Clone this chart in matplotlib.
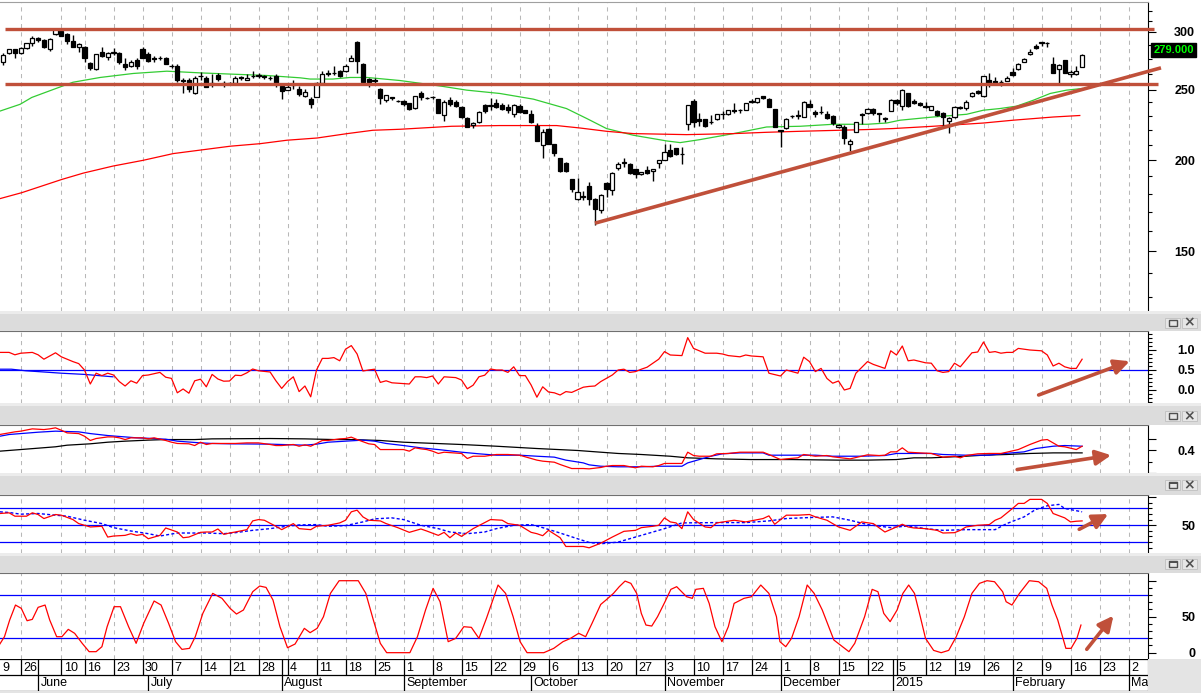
import matplotlib.pyplot as plt
import matplotlib.transforms as mtransforms
from matplotlib.patches import Rectangle
from matplotlib.ticker import NullFormatter

W, H = 1201, 693
AX_RIGHT = 1148

plt.rcParams['font.family'] = ['Liberation Sans', 'DejaVu Sans']
plt.rcParams['lines.scale_dashes'] = False

# ---------------- price data (one candle per trading day, index 0..186) ----------------
opens = [
    273.0, 281.0, 283.7, 281.0, 284.6, 289.2, 294.0, 292.2, 283.7, 297.6,
    301.0, 297.6, 291.4, 286.1, 286.1, 272.0, 266.6, 281.6, 277.0, 281.0,
    281.0, 271.0, 269.6, 274.3, 283.7, 279.6, 275.8, 275.8, 276.4, 269.4,
    269.2, 258.0, 258.0, 246.9, 260.7, 259.6, 254.8, 261.7, 254.8, 255.3,
    255.6, 259.8, 258.0, 260.5, 261.5, 260.5, 259.3, 260.7, 252.6, 250.0,
    253.4, 250.8, 245.0, 242.8, 243.8, 255.6, 263.6, 263.0, 265.0, 265.3,
    273.8, 290.1, 270.9, 258.3, 258.0, 250.8, 241.8, 243.8, 241.3, 241.0,
    239.2, 235.5, 246.9, 243.6, 244.1, 242.6, 230.5, 241.8, 240.3, 236.2,
    228.8, 223.2, 225.3, 237.7, 237.7, 239.7, 237.7, 236.2, 231.1, 237.0,
    234.2, 231.1, 222.6, 209.5, 221.0, 210.4, 201.1, 198.5, 188.2, 176.8,
    178.7, 184.2, 176.8, 171.1, 186.0, 182.3, 195.3, 198.3, 197.5, 194.2,
    191.2, 193.8, 193.0, 198.5, 200.0, 206.5, 207.6, 203.9, 224.1, 240.8,
    228.1, 227.6, 225.7, 227.8, 231.5, 231.3, 234.2, 234.2, 234.7, 241.3,
    240.0, 244.8, 242.8, 234.9, 220.0, 221.1, 229.8, 230.3, 229.3, 238.5,
    233.0, 233.0, 231.3, 229.8, 221.8, 222.2, 210.8, 218.9, 231.1, 231.8,
    235.3, 231.8, 228.3, 233.7, 241.8, 237.2, 246.9, 241.3, 239.2, 237.2,
    234.7, 233.5, 232.3, 226.0, 229.3, 236.7, 235.5, 245.1, 249.0, 244.8,
    257.5, 256.7, 256.0, 257.0, 264.4, 266.6, 273.0, 279.6, 286.6, 290.0,
    289.7, 271.4, 266.6, 274.3, 262.8, 262.2, 268.6]
highs = [
    280.2, 284.3, 284.0, 285.5, 290.0, 295.8, 295.0, 293.6, 294.6, 303.0,
    304.0, 299.0, 296.8, 289.8, 286.5, 273.0, 280.0, 285.5, 281.7, 284.6,
    281.6, 276.0, 274.3, 276.6, 285.5, 281.6, 277.8, 277.8, 277.2, 271.0,
    271.0, 259.5, 259.6, 260.7, 264.3, 260.7, 262.5, 263.6, 256.9, 256.2,
    260.7, 260.7, 262.5, 264.9, 263.6, 261.5, 260.7, 262.5, 254.8, 253.4,
    257.5, 252.6, 250.8, 244.1, 256.2, 265.2, 265.8, 269.7, 266.0, 270.8,
    278.6, 291.5, 271.5, 259.6, 259.0, 251.3, 246.0, 244.3, 242.0, 241.8,
    239.5, 245.3, 248.9, 244.5, 244.8, 243.0, 241.8, 244.3, 241.8, 237.0,
    229.3, 225.7, 233.5, 238.5, 243.6, 242.3, 239.2, 238.7, 238.7, 238.7,
    234.7, 234.2, 224.6, 220.6, 221.5, 210.8, 201.5, 198.9, 188.6, 189.0,
    181.7, 186.8, 177.2, 179.9, 186.8, 192.8, 199.0, 201.6, 198.3, 194.8,
    192.8, 196.3, 194.6, 200.4, 210.8, 210.4, 207.8, 208.6, 238.0, 242.8,
    231.8, 228.0, 230.5, 231.5, 233.3, 234.5, 239.2, 235.3, 239.7, 242.3,
    243.6, 245.3, 243.3, 235.4, 220.2, 228.8, 230.8, 234.2, 241.3, 241.8,
    234.2, 237.2, 233.5, 230.5, 224.1, 223.4, 213.5, 225.7, 231.8, 236.0,
    236.0, 232.3, 229.5, 243.0, 243.0, 250.6, 247.3, 242.3, 240.5, 240.3,
    237.5, 234.2, 233.0, 229.0, 237.2, 237.2, 241.8, 248.2, 249.5, 261.2,
    263.6, 260.2, 257.5, 260.7, 267.9, 271.8, 276.6, 283.7, 288.7, 290.6,
    290.2, 277.2, 270.6, 274.5, 265.8, 268.9, 280.0]
lows = [
    270.5, 280.0, 276.6, 280.0, 284.0, 287.2, 290.6, 284.6, 282.5, 297.0,
    296.0, 288.6, 286.0, 281.6, 273.0, 266.0, 266.0, 277.2, 274.3, 278.6,
    271.4, 265.8, 268.1, 266.4, 275.8, 272.9, 272.9, 274.3, 270.9, 267.2,
    256.2, 246.9, 248.2, 246.4, 257.5, 251.6, 251.6, 257.0, 251.6, 254.2,
    254.8, 258.0, 257.5, 259.6, 259.6, 258.8, 257.5, 252.1, 242.8, 249.5,
    250.8, 244.8, 243.9, 235.5, 243.8, 254.8, 261.0, 261.7, 260.0, 264.5,
    273.8, 263.0, 255.8, 251.6, 255.0, 239.0, 240.5, 241.8, 240.0, 237.5,
    234.5, 235.0, 241.8, 242.8, 242.3, 231.8, 226.5, 237.2, 236.7, 228.8,
    221.8, 221.6, 224.8, 232.3, 234.2, 235.5, 234.7, 232.3, 229.3, 231.8,
    231.8, 224.6, 212.2, 201.6, 210.4, 202.6, 192.8, 192.8, 180.6, 176.1,
    176.5, 173.6, 163.2, 169.3, 178.1, 179.3, 193.8, 195.9, 191.4, 189.3,
    191.0, 191.4, 187.3, 195.1, 199.8, 202.2, 203.5, 197.7, 219.9, 222.2,
    222.6, 221.8, 224.1, 227.3, 227.8, 230.8, 232.0, 231.8, 234.0, 239.5,
    239.7, 242.8, 236.2, 221.8, 208.6, 220.4, 228.8, 227.6, 229.0, 236.2,
    229.3, 231.3, 227.6, 223.4, 221.1, 210.8, 205.9, 218.5, 224.1, 231.5,
    230.8, 225.3, 225.7, 233.4, 238.0, 234.2, 236.9, 238.7, 237.2, 235.5,
    234.5, 229.8, 222.6, 217.6, 228.8, 235.0, 234.7, 244.0, 246.6, 244.3,
    251.6, 254.8, 252.9, 256.7, 260.9, 266.0, 272.7, 278.9, 283.9, 286.6,
    286.3, 263.3, 254.2, 263.3, 259.9, 261.9, 268.3]
closes = [
    278.7, 283.7, 280.2, 284.6, 289.2, 294.6, 292.0, 286.1, 293.7, 302.2,
    296.5, 291.0, 286.1, 288.2, 275.8, 267.2, 279.6, 277.8, 280.2, 281.2,
    272.9, 268.6, 272.3, 269.4, 276.6, 273.5, 275.6, 276.0, 271.4, 269.0,
    257.5, 257.2, 250.8, 259.6, 260.9, 252.1, 254.2, 258.3, 254.6, 255.6,
    259.6, 259.0, 259.6, 260.8, 261.3, 260.4, 259.1, 254.8, 249.0, 252.1,
    253.2, 246.1, 247.7, 238.7, 254.8, 262.5, 262.3, 263.2, 261.2, 269.2,
    276.6, 273.5, 256.2, 256.2, 256.9, 243.3, 245.6, 243.6, 241.1, 238.7,
    235.0, 244.8, 243.8, 243.4, 243.9, 232.3, 240.5, 238.7, 237.2, 229.3,
    222.2, 224.6, 233.0, 233.7, 237.5, 236.7, 235.3, 234.2, 237.7, 232.6,
    232.3, 225.3, 212.6, 218.3, 210.8, 204.3, 193.4, 193.4, 182.5, 180.6,
    178.1, 176.8, 171.6, 179.3, 182.5, 192.0, 197.9, 198.6, 191.8, 191.2,
    192.4, 191.8, 194.2, 200.0, 205.4, 202.6, 203.9, 204.1, 237.7, 225.7,
    226.5, 222.6, 225.9, 231.3, 231.3, 234.2, 233.3, 234.0, 239.2, 240.0,
    243.1, 243.6, 236.7, 222.2, 219.5, 228.1, 229.6, 230.1, 240.5, 236.7,
    231.1, 232.8, 228.3, 225.1, 223.4, 214.2, 212.2, 225.3, 230.9, 235.1,
    231.8, 231.6, 228.1, 241.8, 239.7, 249.9, 237.2, 239.2, 238.0, 236.2,
    237.2, 230.5, 229.3, 228.3, 236.2, 235.5, 240.5, 246.9, 246.9, 260.7,
    254.8, 255.3, 255.8, 259.6, 261.7, 271.4, 275.2, 281.6, 284.6, 289.8,
    289.5, 263.6, 270.3, 263.6, 264.4, 264.9, 279.0]

# moving averages (bar index, price)
ma_fast_x = [-0.6, 2.9, 4.9, 8.6, 12, 16.7, 22.4, 28.2, 33.9, 39.6, 45.5, 51.2, 52.9, 56.8,
             59.8, 62.7, 68.4, 75.6, 79.9, 85.6, 91.4, 97.1, 100.6, 104, 108.6, 114.4, 116.7,
             120.1, 125.9, 131.6, 137.4, 143.1, 148.9, 152.3, 154.6, 160.3, 166.1, 169, 171.8,
             174.7, 177.6, 180.5, 183.3, 186]
ma_fast_y = [233.5, 238.6, 243.8, 250.0, 255.8, 259.7, 263.0, 264.9, 263.5, 262.4, 261.3, 259.4,
             258.4, 258.4, 259.7, 259.7, 257.2, 252.6, 249.5, 246.9, 242.5, 235.4, 228.1, 221.0,
             216.4, 212.5, 211.4, 213.4, 217.5, 222.1, 222.6, 224.0, 224.0, 224.9, 226.9, 229.2,
             231.2, 234.2, 235.4, 237.2, 241.7, 246.9, 249.5, 250.8]
ma_slow_x = [-0.6, 3.2, 10.1, 13.8, 18.9, 24.1, 29.3, 39.1, 44.3, 48.9, 54.1, 59.3, 63.7, 68.4,
             77.3, 85.6, 95.4, 99.4, 104, 108.6, 117.8, 125.9, 131.6, 137.4, 148.9, 153.4, 160.3,
             169, 174.1, 181, 185.6]
ma_slow_y = [177.1, 180.5, 188.2, 192.0, 196.3, 199.9, 204.2, 209.0, 210.7, 213.0, 214.5, 217.5,
             219.8, 220.5, 222.6, 223.1, 223.1, 221.4, 219.1, 217.5, 216.8, 217.5, 218.4, 219.1,
             220.3, 221.0, 222.6, 224.9, 226.9, 229.2, 230.3]

# drawn levels and trend line
levels = [302.3, 254.0]
level_x = [(0.3, 198.4), (0.3, 199.1)]
trend_x = [102, 199.6]
trend_y = [163.9, 267.7]
last_price = 279.0

# ---------------- indicator panels (bar index, value) ----------------
p1_red = [
    (-0.6, 0.94), (1, 0.94), (2, 0.88), (3, 0.92), (5, 0.94), (6, 0.88), (7, 0.77), (9, 0.93), (10, 0.83), (12, 0.71),
    (13, 0.66), (14, 0.5), (15, 0.15), (16, 0.42), (17, 0.36), (18, 0.42), (19, 0.375), (20, 0.21), (21, 0.1), (22, 0.23),
    (23, 0.17), (24, 0.36), (25, 0.375), (27, 0.44), (28, 0.32), (29, 0.29), (30, -0.07), (31, 0.025), (32, -0.08), (33, 0.23),
    (34, 0.27), (35, 0.08), (36, 0.39), (37, 0.275), (38, 0.22), (39, 0.225), (40, 0.37), (41, 0.36), (42, 0.43), (43, 0.525),
    (44, 0.48), (46, 0.45), (47, 0.23), (48, 0.04), (49, 0.21), (50, 0.33), (51, -0.04), (52, 0.1), (53, -0.17), (54, 0.5),
    (55, 0.79), (56, 0.79), (57, 0.81), (58, 0.73), (59, 1.02), (60, 1.11), (61, 0.9), (62, 0.475), (63, 0.5), (64, 0.52),
    (65, 0.19), (66, 0.23), (67, 0.18), (68, 0.17), (70, 0.15), (71, 0.33), (72, 0.33), (73, 0.31), (74, 0.35), (75, 0.15),
    (76, 0.33), (78, 0.31), (79, 0.25), (80, 0.03), (81, 0.12), (82, 0.33), (83, 0.37), (84, 0.525), (85, 0.5), (86, 0.5),
    (87, 0.44), (88, 0.58), (89, 0.36), (90, 0.36), (91, 0.125), (92, -0.18), (93, 0.08), (94, -0.05), (95, -0.07), (96, -0.125),
    (97, -0.04), (98, -0.06), (100, 0.07), (101, 0.09), (102, 0.1), (103, 0.21), (105, 0.375), (106, 0.5), (107, 0.52), (108, 0.44),
    (109, 0.46), (110, 0.52), (111, 0.57), (113, 0.77), (114, 0.96), (115, 0.875), (117, 0.86), (118, 1.31), (119, 1.04), (121, 0.92),
    (123, 0.92), (124, 0.9), (125, 0.86), (127, 0.83), (128, 0.875), (129, 0.85), (131, 0.83), (132, 0.42), (134, 0.35), (135, 0.5),
    (136, 0.46), (137, 0.42), (138, 0.82), (139, 0.71), (140, 0.46), (141, 0.54), (142, 0.29), (143, 0.17), (144, 0.225), (145, 0.0),
    (146, 0.04), (147, 0.42), (149, 0.71), (150, 0.64), (152, 0.54), (153, 0.98), (154, 0.875), (155, 1.1), (156, 0.73), (157, 0.75),
    (159, 0.68), (160, 0.67), (161, 0.48), (162, 0.44), (163, 0.46), (164, 0.67), (165, 0.58), (167, 0.93), (168, 0.95), (169, 1.2),
    (170, 0.94), (171, 0.96), (172, 0.92), (173, 0.94), (174, 0.94), (175, 1.04), (177, 1.0), (179, 0.98), (180, 0.875), (181, 0.6),
    (182, 0.67), (183, 0.58), (184, 0.54), (185, 0.54), (186, 0.77)]
p1_blue = [(-0.6, 0.52), (1.4, 0.52), (3.9, 0.48), (6.0, 0.46), (10.0, 0.42), (14.0, 0.39), (18.9, 0.33)]

p2_red = [
    (-0.6, 0.535), (1, 0.549), (2, 0.558), (3, 0.564), (5, 0.584), (7, 0.578), (8, 0.584), (9, 0.593), (10, 0.572), (11, 0.549),
    (13, 0.543), (14, 0.52), (15, 0.483), (16, 0.5), (18, 0.514), (19, 0.514), (20, 0.506), (21, 0.491), (22, 0.506), (24, 0.506),
    (25, 0.497), (26, 0.506), (28, 0.483), (29, 0.468), (30, 0.457), (32, 0.454), (33, 0.439), (34, 0.468), (35, 0.448), (36, 0.457),
    (38, 0.457), (40, 0.457), (42, 0.462), (44, 0.462), (46, 0.448), (47, 0.439), (48, 0.439), (50, 0.448), (51, 0.433), (52, 0.445),
    (53, 0.433), (54, 0.457), (55, 0.483), (56, 0.483), (58, 0.497), (59, 0.5), (60, 0.512), (61, 0.491), (63, 0.454), (64, 0.448),
    (65, 0.404), (67, 0.404), (69, 0.404), (70, 0.39), (71, 0.419), (72, 0.41), (73, 0.404), (74, 0.39), (75, 0.37), (76, 0.381),
    (79, 0.37), (80, 0.326), (81, 0.346), (83, 0.346), (85, 0.361), (87, 0.361), (89, 0.355), (90, 0.341), (92, 0.312), (93, 0.303),
    (95, 0.294), (96, 0.274), (98, 0.239), (100, 0.239), (101, 0.236), (103, 0.248), (104, 0.259), (105, 0.265), (107, 0.265), (109, 0.245),
    (110, 0.259), (112, 0.254), (113, 0.265), (114, 0.283), (117, 0.283), (118, 0.381), (119, 0.352), (120, 0.346), (122, 0.346), (123, 0.367),
    (125, 0.37), (127, 0.381), (131, 0.381), (132, 0.361), (134, 0.317), (135, 0.323), (137, 0.332), (138, 0.361), (140, 0.346), (142, 0.352),
    (143, 0.341), (146, 0.323), (148, 0.346), (149, 0.358), (151, 0.352), (152, 0.355), (153, 0.384), (154, 0.384), (155, 0.419), (156, 0.381),
    (158, 0.375), (160, 0.37), (162, 0.338), (164, 0.346), (165, 0.332), (166, 0.352), (168, 0.367), (170, 0.37), (172, 0.37), (173, 0.381),
    (175, 0.404), (177, 0.448), (179, 0.486), (180, 0.491), (181, 0.462), (182, 0.433), (183, 0.428), (185, 0.404), (186, 0.433)]
p2_blue = [
    (-0.6, 0.52), (1, 0.535), (3, 0.543), (6, 0.555), (9, 0.564), (13, 0.558), (15, 0.543), (18, 0.526), (21, 0.514), (23, 0.506),
    (26, 0.5), (28, 0.494), (30, 0.477), (34, 0.462), (36, 0.457), (39, 0.454), (46, 0.451), (50, 0.445), (52, 0.442), (54, 0.451),
    (56, 0.468), (59, 0.477), (62, 0.486), (64, 0.477), (66, 0.457), (69, 0.439), (72, 0.419), (75, 0.404), (79, 0.381), (82, 0.367),
    (85, 0.355), (89, 0.355), (92, 0.346), (95, 0.338), (97, 0.312), (100, 0.288), (101, 0.271), (103, 0.259), (106, 0.254), (110, 0.254),
    (113, 0.259), (117, 0.259), (118, 0.288), (120, 0.317), (122, 0.346), (124, 0.367), (127, 0.375), (131, 0.375), (132, 0.355), (136, 0.355),
    (140, 0.355), (143, 0.346), (148, 0.346), (152, 0.352), (154, 0.37), (160, 0.37), (162, 0.361), (166, 0.355), (170, 0.355), (172, 0.367),
    (176, 0.384), (178, 0.413), (181, 0.433), (183, 0.439), (186, 0.433)]
p2_black = [
    (-0.6, 0.39), (3, 0.404), (9, 0.428), (11, 0.442), (15, 0.454), (18, 0.468), (21, 0.477), (25, 0.486), (28, 0.491), (33, 0.491),
    (36, 0.497), (46, 0.5), (52, 0.497), (57, 0.491), (60, 0.491), (65, 0.483), (69, 0.468), (72, 0.462), (79, 0.448), (85, 0.433),
    (92, 0.413), (99, 0.396), (103, 0.381), (106, 0.37), (110, 0.361), (115, 0.346), (118, 0.332), (123, 0.323), (129, 0.317), (136, 0.317),
    (144, 0.312), (149, 0.312), (154, 0.317), (157, 0.332), (160, 0.332), (166, 0.346), (169, 0.355), (173, 0.361), (177, 0.37), (181, 0.375),
    (186, 0.375)]

p3_red = [
    (-0.6, 71), (1, 72.2), (2, 66.2), (4, 66.2), (5, 72.2), (6, 69.2), (7, 62), (9, 69.2), (10, 68), (12, 60.2),
    (13, 53), (15, 47), (17, 48.2), (18, 29), (19, 30.8), (21, 32), (22, 35), (23, 32), (24, 33.8), (25, 26),
    (27, 32), (28, 45.2), (30, 38), (31, 27.8), (32, 29), (34, 37.4), (35, 38), (36, 38), (37, 43.4), (38, 33.8),
    (39, 36.2), (40, 38), (42, 42.2), (43, 57.8), (44, 60.2), (45, 59), (47, 48.2), (48, 42.2), (50, 53), (51, 44),
    (53, 42.2), (54, 48.2), (56, 50), (58, 54.2), (59, 59), (60, 74), (61, 77), (62, 65), (63, 59), (65, 57.8),
    (66, 53), (68, 45.8), (70, 37.4), (72, 43.4), (73, 39.8), (75, 32), (76, 37.4), (77, 27.8), (78, 36.2), (79, 30.2),
    (81, 44), (83, 54.8), (84, 60.2), (86, 59), (87, 53), (89, 50), (91, 37.4), (92, 35), (93, 31.4), (94, 41),
    (96, 27.8), (97, 12.2), (100, 12.2), (101, 9.8), (103, 18), (105, 29), (107, 39.2), (109, 41), (110, 45.8), (112, 48.2),
    (113, 50), (114, 63.2), (115, 56), (116, 54.2), (117, 44), (118, 74), (119, 60.2), (121, 47), (122, 45.8), (123, 54.2),
    (126, 59), (128, 56), (131, 62), (132, 66.8), (133, 51.8), (135, 68), (137, 68), (139, 69.2), (140, 65), (142, 59),
    (144, 47), (146, 41), (148, 56), (150, 53), (152, 38), (154, 47), (155, 51.8), (156, 47), (157, 45.2), (159, 44),
    (161, 41), (162, 36.2), (164, 36.8), (165, 41), (166, 47), (168, 50), (170, 51.2), (171, 59), (172, 63.2), (174, 80),
    (175, 89), (176, 89), (177, 96.2), (179, 96.2), (180, 89), (181, 71), (183, 63.2), (184, 56), (185, 57.2), (186, 57.8)]
p3_signal = [
    (-0.6, 74), (1, 72.8), (3, 69.8), (6, 71), (9, 68), (11, 66.2), (14, 59), (17, 53), (19, 45.8), (22, 39.8),
    (25, 35), (27, 30.8), (30, 36.2), (33, 36.2), (35, 36.2), (38, 35), (40, 36.8), (43, 41), (46, 44), (48, 47),
    (51, 50.6), (54, 51.2), (56, 48.2), (59, 49.4), (62, 56), (64, 61.4), (67, 63.2), (69, 60.2), (72, 50), (75, 44),
    (77, 38), (80, 35), (83, 38), (85, 44), (88, 50), (91, 51.2), (93, 45.8), (96, 36.2), (99, 26), (101, 19.4),
    (103, 17), (106, 20), (108, 26), (111, 35), (114, 44), (117, 54.2), (123, 54.8), (128, 54.8), (132, 57.8), (135, 62),
    (139, 63.8), (143, 65), (146, 59), (149, 51.2), (153, 45.8), (156, 48.8), (159, 44), (162, 41), (166, 42.2), (171, 42.2),
    (173, 53), (176, 65), (178, 78.2), (180, 84.8), (182, 87.2), (183, 80), (186, 74)]

p4_red = [
    (-0.6, 12.0), (0.2, 22.2), (1.1, 45.4), (2.1, 66.2), (3.1, 61.6), (4.1, 44.4), (5.0, 46.3), (6.0, 63.0), (7.2, 66.2), (8.0, 45.4),
    (9.2, 22.2), (10.1, 22.2), (11.2, 32.4), (12.3, 26.9), (13.6, 13.0), (14.8, 1.4), (16.0, 1.4), (17.0, 8.3), (17.9, 36.1), (19.1, 63.9),
    (20.2, 63.9), (21.6, 36.1), (22.9, 13.0), (24.2, 40.7), (26.0, 71.8), (27.2, 66.2), (28.5, 40.7), (29.7, 15.3), (30.8, 4.6), (32.1, 6.0),
    (33.1, 22.2), (34.4, 54.6), (36.1, 82.4), (37.7, 75.5), (39.1, 61.6), (40.2, 53.7), (41.4, 59.3), (43.0, 84.7), (44.2, 92.6), (45.3, 90.7),
    (46.5, 73.1), (47.7, 36.1), (49.0, 6.9), (50.3, 12.0), (51.9, 33.8), (52.9, 27.8), (54.1, 33.8), (55.2, 50.0), (56.4, 82.4), (57.9, 100),
    (61.2, 100), (62.5, 82.4), (63.8, 45.4), (65.0, 13.0), (66.1, 0), (70.1, 0), (71.4, 22.2), (72.8, 59.3), (74.1, 89.4), (75.3, 70.8),
    (76.7, 15.3), (78.0, 19.9), (79.4, 36.1), (80.7, 35.2), (82.0, 19.9), (83.3, 47.7), (85.3, 94.0), (86.6, 82.4), (87.9, 50.0), (89.1, 15.3),
    (90.3, 0), (93.2, 0), (94.9, 6.0), (96.5, 15.3), (97.8, 19.9), (99.2, 26.9), (100.4, 22.2), (101.5, 40.7), (103.0, 67.0), (103.9, 73.1),
    (105.2, 82.4), (106.2, 91.7), (107.2, 99.5), (108.2, 96.3), (109.2, 82.4), (110.0, 54.6), (110.8, 38.4), (111.8, 37.0), (112.8, 50.0), (114.0, 69.4),
    (115.1, 88.0), (116.1, 91.7), (117.8, 77.8), (118.8, 75.5), (119.4, 88.0), (120.7, 89.4), (121.7, 68.5), (122.7, 36.1), (123.9, 15.3), (125.0, 36.1),
    (126.0, 68.5), (127.7, 75.5), (129.0, 77.8), (130.6, 94.0), (132.0, 82.4), (133.3, 50.0), (133.9, 15.3), (134.9, 8.3), (135.9, 19.9), (137.2, 50.0),
    (138.6, 94.0), (139.8, 82.4), (141.2, 59.3), (143.2, 17.6), (145.8, 1.4), (146.8, 13.0), (148.5, 50.0), (149.8, 88.0), (150.8, 84.7), (151.8, 54.6),
    (152.9, 43.1), (154.1, 59.3), (155.1, 82.4), (156.1, 94.0), (157.1, 82.4), (158.1, 50.0), (159.0, 19.9), (160.4, 3.2), (161.7, 0), (163.0, 3.2),
    (164.3, 22.2), (165.7, 50.0), (167.0, 82.4), (168.3, 96.3), (169.6, 100), (170.9, 98.6), (172.3, 84.7), (172.9, 70.8), (173.9, 66.2), (175.2, 82.4),
    (176.9, 100), (178.5, 98.6), (179.9, 89.4), (180.8, 66.2), (181.8, 45.4), (183.2, 6.0), (184.1, 6.0), (185.1, 19.9), (185.8, 38.4)]

# arrows drawn on the indicator panels: (start, tip)
arrows = [((178.5, -0.125), (194.2, 0.72)),
          ((174.8, 0.23), (191.0, 0.355)),
          ((185.5, 42.8), (190.5, 70.0)),
          ((186.8, 4.7), (191.4, 51.4))]

# time axis
grid_idx = [3, 10, 14, 19, 24, 29, 34, 39, 44, 49, 54, 59, 64, 69, 74, 79, 84, 89, 94, 99, 104,
            109, 114, 119, 124, 129, 134, 139, 144, 149, 154, 159, 164, 169, 174, 179, 184, 189, 194]
day_labels = ['26', '10', '16', '23', '30', '7', '14', '21', '28', '4', '11', '18', '25',
              '1', '8', '15', '22', '29', '6', '13', '20', '27', '3', '10', '17', '24', '1', '8',
              '15', '22', '5', '12', '19', '26', '2', '9', '16', '23', '2']
first_day_label = '9'          # tail of "19", the week that starts before the left edge
split_cells = [6, 48, 153.4]   # day-row cells split by a month change
month_idx = [6, 25, 48, 69, 91, 114, 134, 153.4, 174, 194]
month_labels = ['June', 'July', 'August', 'September', 'October', 'November', 'December',
                '2015', 'February', 'March']

# ---------------- layout ----------------
XLIM = (-0.57, 197.36)
BROWN = '#c0503a'
GRID = '#b8b8b8'
HEADER = '#dcdcdc'


def px_rect(top, bottom, left=0, right=AX_RIGHT):
    return [left / W, 1 - bottom / H, (right - left) / W, (bottom - top) / H]


fig = plt.figure(figsize=(W / 100, H / 100), dpi=100)
fig.patch.set_facecolor('white')


def fig_rect(x0, y0, x1, y1, **kw):
    fig.add_artist(Rectangle((x0 / W, 1 - y1 / H), (x1 - x0) / W, (y1 - y0) / H,
                             transform=fig.transFigure, **kw))


def style_panel(ax, major, labels, minor, top_color='#707070'):
    ax.set_xlim(*XLIM)
    ax.set_facecolor('white')
    for s in ['left', 'bottom']:
        ax.spines[s].set_visible(False)
    ax.spines['top'].set_color(top_color)
    ax.spines['top'].set_linewidth(0.8)
    ax.spines['right'].set_color('black')
    ax.spines['right'].set_linewidth(0.8)
    ax.set_xticks([])
    ax.yaxis.tick_right()
    ax.set_yticks(major, labels=labels, fontweight='bold', ha='right', fontsize=9)
    ax.set_yticks(minor, minor=True)
    ax.yaxis.set_minor_formatter(NullFormatter())
    ax.tick_params(axis='y', which='major', length=6, width=0.8, pad=28)
    ax.tick_params(axis='y', which='minor', length=3.2, width=0.8)
    for g in grid_idx:
        ax.axvline(g, color=GRID, lw=0.75, ls=(0, (3, 3)), zorder=0)


# header bars between panels
headers = [(311, 331, 322.7), (403, 424.5, 415.8), (473, 494.5, 485.3), (552.5, 573.3, 564.3)]
for top, bot, cy in headers:
    fig_rect(0, top, W, bot, facecolor=HEADER, edgecolor='none')
    fig_rect(0, top, W, top + 3, facecolor='#ececec', edgecolor='none')
    fig_rect(1165, cy - 5, 1180, cy + 5, facecolor='#e6e6e6', edgecolor='#c4c4c4', lw=0.7)
    fig_rect(1182, cy - 5, 1197, cy + 5, facecolor='#e6e6e6', edgecolor='#c4c4c4', lw=0.7)
    fig_rect(1168.5, cy - 3, 1176.5, cy + 3, facecolor='none', edgecolor='#505050', lw=1.0)
    fig_rect(1168.5, cy - 3, 1176.5, cy - 1.5, facecolor='#505050', edgecolor='none')
    fig.text(1189.5 / W, 1 - cy / H, '\u00d7', color='#505050', fontsize=10, fontweight='bold',
             ha='center', va='center', family='DejaVu Sans')

# ---------------- main price panel ----------------
ax = fig.add_axes(px_rect(2, 311))
ax.set_yscale('log')
ax.set_ylim(124.2, 329.6)
style_panel(ax, [150, 200, 250, 300], ['150', '200', '250', '300'],
            [130, 140, 160, 170, 180, 190, 210, 220, 230, 240, 262.5, 275, 287.5, 310, 320],
            top_color='#a0a0a0')

idx = list(range(len(closes)))
body_lo = [min(o, c) for o, c in zip(opens, closes)]
body_h = [max(abs(c - o), 0.25) for o, c in zip(opens, closes)]
faces = ['white' if c >= o else 'black' for o, c in zip(opens, closes)]
ax.vlines(idx, lows, highs, color='black', lw=1.0, zorder=3)
ax.bar(idx, body_h, bottom=body_lo, width=0.7, color=faces, edgecolor='black',
       linewidth=0.9, zorder=4)

ax.plot(ma_fast_x, ma_fast_y, color='#33cc33', lw=0.9, zorder=2)
ax.plot(ma_slow_x, ma_slow_y, color='#ff0000', lw=0.9, zorder=2)

for lvl, (xa, xb) in zip(levels, level_x):
    ax.plot([xa, xb], [lvl, lvl], color=BROWN, lw=2.4, zorder=5, clip_on=False,
            solid_capstyle='butt')
ax.plot(trend_x, trend_y, color=BROWN, lw=2.6, zorder=5, clip_on=False, solid_capstyle='butt')

price_tr = mtransforms.blended_transform_factory(ax.transAxes, ax.transData)
ax.text(1.0222, last_price, '279.000', transform=price_tr, color='#00ff00', fontsize=8,
        fontweight='bold', ha='center', va='bottom', zorder=6,
        bbox=dict(boxstyle='square,pad=0.18', fc='black', ec='black'))

# ---------------- panel 1 ----------------
ax1 = fig.add_axes(px_rect(331, 403))
ax1.set_ylim(-0.325, 1.475)
style_panel(ax1, [0.0, 0.5, 1.0], ['0.0', '0.5', '1.0'],
            [-0.3, -0.2, -0.1, 0.1, 0.2, 0.3, 0.4, 0.6, 0.7, 0.8, 0.9, 1.1, 1.2, 1.3, 1.4])
ax1.axhline(0.5, color='#0000ff', lw=0.9, zorder=1)
bx, by = zip(*p1_blue)
ax1.plot(bx, by, color='#0000ff', lw=0.9, zorder=1)
rx, ry = zip(*p1_red)
ax1.plot(rx, ry, color='#ff0000', lw=0.9, zorder=2)

# ---------------- panel 2 ----------------
ax2 = fig.add_axes(px_rect(424.5, 473))
ax2.set_ylim(0.2, 0.622)
style_panel(ax2, [0.2, 0.4, 0.5], ['', '0.4', ''], [0.3])
kx, ky = zip(*p2_black)
ax2.plot(kx, ky, color='black', lw=0.9, zorder=1)
bx, by = zip(*p2_blue)
ax2.plot(bx, by, color='#0000ff', lw=0.9, zorder=2)
rx, ry = zip(*p2_red)
ax2.plot(rx, ry, color='#ff0000', lw=0.9, zorder=3)

# ---------------- panel 3 ----------------
ax3 = fig.add_axes(px_rect(494.5, 552.5))
ax3.set_ylim(1.44, 104.9)
style_panel(ax3, [50, 100], ['50', ''], [10, 20, 30, 40, 60, 70, 80, 90])
for lvl in [20, 50, 80]:
    ax3.axhline(lvl, color='#0000ff', lw=0.9, zorder=1)
sx, sy = zip(*p3_signal)
ax3.plot(sx, sy, color='#0000ff', lw=1.0, ls=(0, (2.2, 1.6)), zorder=2)
rx, ry = zip(*p3_red)
ax3.plot(rx, ry, color='#ff0000', lw=0.9, zorder=3)

# ---------------- panel 4 ----------------
ax4 = fig.add_axes(px_rect(573.3, 659.3))
ax4.set_ylim(-9.2, 110.3)
style_panel(ax4, [0, 50, 100], ['0', '50', ''], [10, 20, 30, 40, 60, 70, 80, 90])
for lvl in [20, 80]:
    ax4.axhline(lvl, color='#0000ff', lw=0.9, zorder=1)
rx, ry = zip(*p4_red)
ax4.plot(rx, ry, color='#ff0000', lw=0.9, zorder=2)

for a, (start, tip) in zip([ax1, ax2, ax3, ax4], arrows):
    a.annotate('', xy=tip, xytext=start, annotation_clip=False,
               arrowprops=dict(arrowstyle='-|>,head_length=0.65,head_width=0.32',
                               color=BROWN, lw=2.6, mutation_scale=14,
                               shrinkA=0, shrinkB=0))

# ---------------- date axis ----------------
fig_rect(AX_RIGHT, 659.3, W, H, facecolor='#e4e4e4', edgecolor='none')
fig_rect(0, 691, W, H, facecolor='#e4e4e4', edgecolor='none')
dax = fig.add_axes(px_rect(659.3, 691))
dax.set_xlim(*XLIM)
dax.set_ylim(0, 1)
dax.set_xticks([])
dax.set_yticks([])
for s in ['left', 'top', 'bottom']:
    dax.spines[s].set_visible(False)
dax.spines['right'].set_linewidth(0.8)
for yy in [1, 0.5, 0]:
    dax.axhline(yy, color='black', lw=0.9)
dax.vlines(grid_idx + split_cells, 0.5, 1, color='black', lw=0.9)
dax.vlines(month_idx, 0, 0.5, color='black', lw=0.9)
off = mtransforms.offset_copy(dax.transData, fig=fig, x=2.5, y=0, units='dots')
dax.text(XLIM[0], 0.74, first_day_label, transform=off, ha='left', va='center', fontsize=9)
for d, lab in zip(grid_idx, day_labels):
    dax.text(d, 0.74, lab, transform=off, ha='left', va='center', fontsize=9, clip_on=True)
for m, lab in zip(month_idx, month_labels):
    dax.text(m, 0.24, lab, transform=off, ha='left', va='center', fontsize=9, clip_on=True)

fig.savefig('out.png', dpi=100, facecolor='white')
